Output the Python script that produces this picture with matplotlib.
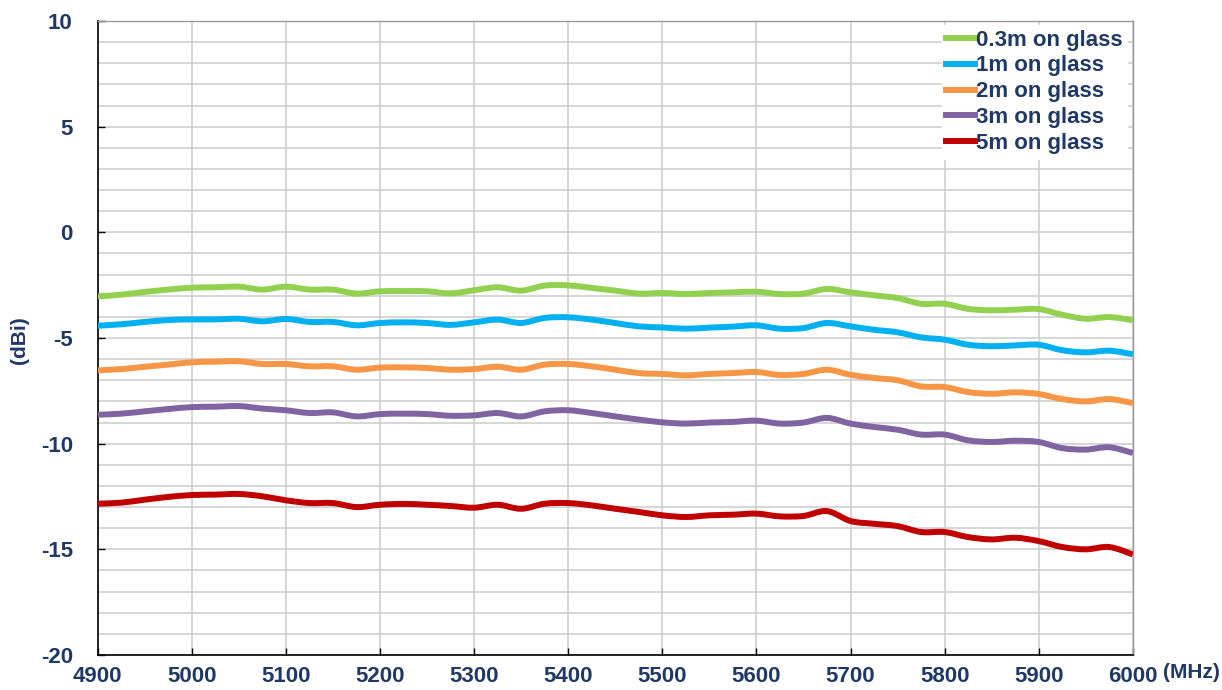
import matplotlib.pyplot as plt
from matplotlib import font_manager
from matplotlib.path import Path
from matplotlib.patches import PathPatch
from matplotlib.lines import Line2D

plt.rcParams['axes.unicode_minus'] = False

# frequency points (MHz)
freq = list(range(4900, 6001, 25))

gain_03m = [-3.03, -2.95, -2.82, -2.71, -2.62, -2.60, -2.57, -2.71, -2.57, -2.71,
            -2.71, -2.90, -2.79, -2.78, -2.79, -2.89, -2.74, -2.60, -2.76, -2.52,
            -2.51, -2.63, -2.76, -2.90, -2.87, -2.92, -2.87, -2.84, -2.81, -2.92,
            -2.90, -2.68, -2.84, -2.98, -3.11, -3.38, -3.38, -3.62, -3.69, -3.66,
            -3.63, -3.90, -4.09, -4.01, -4.16]
gain_1m = [-4.42, -4.35, -4.24, -4.15, -4.12, -4.12, -4.09, -4.21, -4.10, -4.24,
           -4.24, -4.40, -4.29, -4.26, -4.29, -4.38, -4.26, -4.13, -4.29, -4.05,
           -4.02, -4.13, -4.29, -4.45, -4.50, -4.56, -4.51, -4.46, -4.40, -4.56,
           -4.53, -4.29, -4.45, -4.61, -4.73, -4.97, -5.08, -5.32, -5.39, -5.35,
           -5.32, -5.58, -5.68, -5.60, -5.77]
gain_2m = [-6.53, -6.47, -6.36, -6.26, -6.15, -6.12, -6.10, -6.23, -6.23, -6.34,
           -6.34, -6.50, -6.40, -6.39, -6.42, -6.50, -6.47, -6.36, -6.50, -6.26,
           -6.23, -6.34, -6.50, -6.66, -6.70, -6.77, -6.70, -6.66, -6.61, -6.75,
           -6.70, -6.50, -6.74, -6.89, -7.00, -7.29, -7.32, -7.56, -7.64, -7.57,
           -7.65, -7.89, -8.00, -7.89, -8.08]
gain_3m = [-8.63, -8.58, -8.47, -8.36, -8.27, -8.25, -8.22, -8.34, -8.42, -8.55,
           -8.52, -8.71, -8.60, -8.58, -8.60, -8.68, -8.66, -8.55, -8.71, -8.47,
           -8.42, -8.55, -8.71, -8.86, -8.99, -9.05, -9.00, -8.97, -8.91, -9.05,
           -9.00, -8.78, -9.05, -9.21, -9.34, -9.57, -9.57, -9.84, -9.92, -9.86,
           -9.92, -10.21, -10.28, -10.17, -10.44]
gain_5m = [-12.84, -12.79, -12.65, -12.52, -12.43, -12.41, -12.38, -12.49, -12.68, -12.81,
           -12.81, -13.00, -12.89, -12.85, -12.89, -12.95, -13.03, -12.89, -13.08, -12.84,
           -12.81, -12.92, -13.08, -13.23, -13.39, -13.47, -13.39, -13.36, -13.31, -13.44,
           -13.42, -13.19, -13.66, -13.79, -13.90, -14.18, -14.18, -14.42, -14.53, -14.45,
           -14.61, -14.89, -15.00, -14.89, -15.24]

labels = ['0.3m on glass', '1m on glass', '2m on glass', '3m on glass', '5m on glass']
colors = ['#92D050', '#00B0F0', '#F79646', '#8064A2', '#C00000']
series = [gain_03m, gain_1m, gain_2m, gain_3m, gain_5m]

navy = '#203864'
names = {f.name for f in font_manager.fontManager.ttflist}
tick_font = 'Liberation Sans Narrow' if 'Liberation Sans Narrow' in names else 'Liberation Sans'


def smooth_path(x, y):
    # smoothed line through the points, cubic Bezier segments (Catmull-Rom tangents)
    verts = [(x[0], y[0])]
    codes = [Path.MOVETO]
    n = len(x)
    for i in range(n - 1):
        x0, y0 = (x[i - 1], y[i - 1]) if i > 0 else (x[i], y[i])
        x3, y3 = (x[i + 2], y[i + 2]) if i + 2 < n else (x[i + 1], y[i + 1])
        c1 = (x[i] + (x[i + 1] - x0) / 6, y[i] + (y[i + 1] - y0) / 6)
        c2 = (x[i + 1] - (x3 - x[i]) / 6, y[i + 1] - (y3 - y[i]) / 6)
        verts += [c1, c2, (x[i + 1], y[i + 1])]
        codes += [Path.CURVE4] * 3
    return Path(verts, codes)


fig = plt.figure(figsize=(12.22, 6.9), dpi=100)
ax = fig.add_axes([0.080, 0.0507, 0.847, 0.9189])

handles = []
for y, c, lab in zip(series, colors, labels):
    ax.add_patch(PathPatch(smooth_path(freq, y), fill=False, edgecolor=c, lw=4.3,
                           joinstyle='round', capstyle='butt', zorder=3))
    handles.append(Line2D([], [], color=c, lw=4.3, label=lab))

ax.set_xlim(4900, 6000)
ax.set_ylim(-20, 10)
ax.set_xticks(range(4900, 6001, 100))
ax.set_yticks(range(-20, 11, 5))
ax.set_yticks(range(-20, 11, 1), minor=True)
ax.grid(True, which='major', axis='x', color='#cccccc', lw=1.1)
ax.grid(True, which='both', axis='y', color='#cccccc', lw=1.1)
ax.set_axisbelow(True)

ax.tick_params(axis='both', which='major', direction='in', length=5, width=1,
               labelsize=16, labelcolor=navy)
ax.tick_params(axis='y', which='minor', length=0)
ax.tick_params(axis='y', pad=18)
ax.tick_params(axis='x', pad=8)
for lbl in ax.get_xticklabels() + ax.get_yticklabels():
    lbl.set_fontfamily(tick_font)
    lbl.set_fontweight('bold')

for side in ['left', 'bottom']:
    ax.spines[side].set_color('black')
    ax.spines[side].set_linewidth(1.2)
for side in ['top', 'right']:
    ax.spines[side].set_color('#999999')
    ax.spines[side].set_linewidth(1.0)

fig.text(0.016, 0.507, '(dBi)', rotation=90, ha='center', va='center',
         fontsize=15, fontweight='bold', color=navy, family='Liberation Sans')
fig.text(0.975, 0.025, '(MHz)', ha='center', va='center',
         fontsize=15, fontweight='bold', color=navy, family='Liberation Sans')

leg = ax.legend(handles=handles, loc='upper right', bbox_to_anchor=(0.997, 0.997),
                frameon=True, fancybox=False, edgecolor='white', framealpha=1.0,
                prop={'family': 'Liberation Sans', 'weight': 'bold', 'size': 16},
                handlelength=1.3, handletextpad=0.05, labelspacing=0.22,
                borderpad=0.2, borderaxespad=0.1)
for t in leg.get_texts():
    t.set_color(navy)

fig.savefig('out.png', dpi=100)
